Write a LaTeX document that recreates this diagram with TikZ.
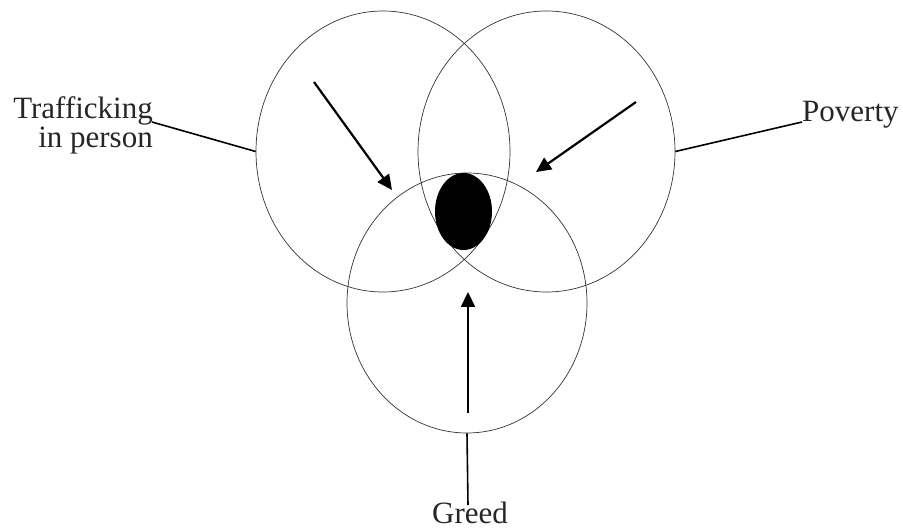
\documentclass[tikz,border=0pt]{standalone}
\usepackage{fontspec}
\setmainfont{Liberation Serif}
\usetikzlibrary{shapes.geometric,arrows.meta}
\begin{document}
\begin{tikzpicture}[x=1pt,y=-1pt,
  venn/.style={draw=black!80,line width=0.7pt,ellipse,inner sep=0pt},
  conn/.style={draw=black,line width=1.6pt},
  arr/.style={draw=black,line width=2.2pt,-{Triangle[length=15pt,width=14pt]}},
  lbl/.style={font=\fontsize{31}{29}\selectfont,inner sep=0pt,text=black!85}]
\useasboundingbox (0,0) rectangle (903,529);
\node[venn,minimum width=254pt,minimum height=281pt] (L) at (383,151.5) {};
\node[venn,minimum width=257pt,minimum height=281pt] (R) at (546.5,151.5) {};
\node[venn,minimum width=240pt,minimum height=260pt] (B) at (467,303) {};
\node[ellipse,fill=black,inner sep=0pt,minimum width=57pt,minimum height=77pt] (K) at (463.5,211.5) {};
% labels
\node[lbl,align=right,anchor=base east] (T) at (153,148) {Trafficking\\in person};
\node[lbl,anchor=base west] (P) at (802,122) {Poverty};
\node[lbl,anchor=base] (G) at (470,523) {Greed};
% connectors
\coordinate (Ta) at (152,122);
\coordinate (Pa) at (802,122);
\coordinate (Ga) at (468,505);
\draw[conn] (Ta) -- (L.west);
\draw[conn] (Pa) -- (R.east);
\draw[conn] (Ga) -- (B.south);
% arrows
\coordinate (a1s) at (314,82);
\coordinate (a1e) at (392,190);
\coordinate (a2s) at (636,102);
\coordinate (a2e) at (536,172);
\coordinate (a3s) at (468,413);
\coordinate (a3e) at (468,292);
\draw[arr] (a1s) -- (a1e);
\draw[arr] (a2s) -- (a2e);
\draw[arr] (a3s) -- (a3e);
\end{tikzpicture}
\end{document}
